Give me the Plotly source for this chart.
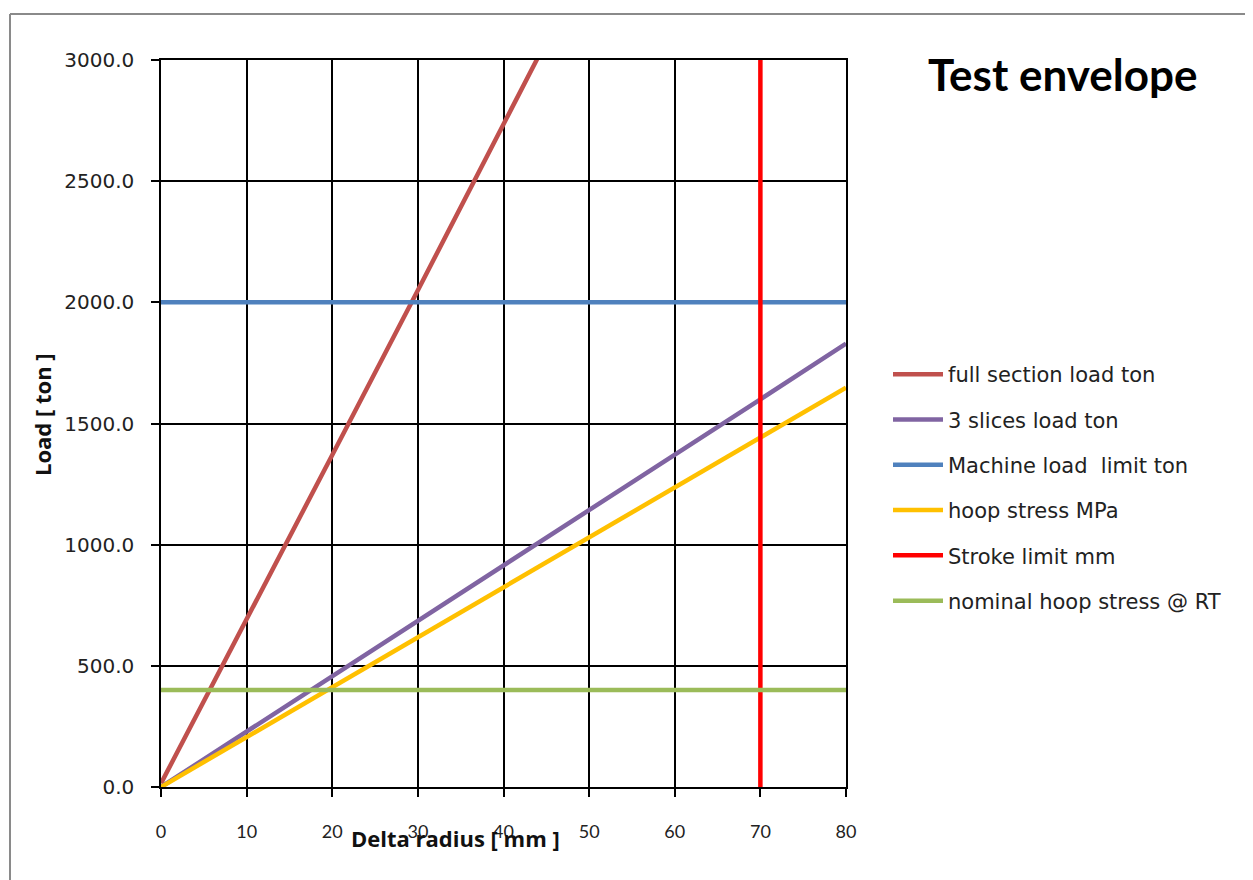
import plotly.graph_objects as go

# Data
delta_x = [0, 10, 20, 30, 40, 50, 60, 70, 80]
full_section_x = [0, 10, 20, 30, 40, 50]
full_section = [15, 690, 1370, 2050, 2740, 3420]
three_slices = [0, 228, 457, 686, 915, 1143, 1372, 1600, 1830]
hoop_stress = [0, 206, 412, 618, 824, 1030, 1236, 1442, 1648]
machine_x = [0, 80]
machine_limit = [2000, 2000]
stroke_x = [70, 70]
stroke_y = [0, 3000]
nominal_x = [0, 80]
nominal_hoop = [400, 400]

series = [
    ("full section load ton", full_section_x, full_section, "#C0504D"),
    ("3 slices load ton", delta_x, three_slices, "#8064A2"),
    ("Machine load  limit ton", machine_x, machine_limit, "#4F81BD"),
    ("hoop stress MPa", delta_x, hoop_stress, "#FFC000"),
    ("Stroke limit mm", stroke_x, stroke_y, "#FF0000"),
    ("nominal hoop stress @ RT", nominal_x, nominal_hoop, "#9BBB59"),
]

fig = go.Figure()
for i, (name, xs, ys, col) in enumerate(series):
    fig.add_trace(go.Scatter(x=xs, y=ys, mode="lines", name=name,
                             legendgroup=f"g{i}",
                             line=dict(color=col, width=4.5)))

OFF = 8  # page body margin
W, H = 1253 - OFF, 880 - OFF
# plot area in reference pixel coords: x 161..846, y 60..787
L, R, T, B = 161 - OFF, 1253 - 846, 60 - OFF, 880 - 787
pw, ph = W - L - R, H - T - B

def px(xp):
    return (xp - OFF - L) / pw

def py(yp):
    return (H - B - (yp - OFF)) / ph

fig.update_layout(
    width=W, height=H,
    margin=dict(l=L, r=R, t=T, b=B),
    paper_bgcolor="white", plot_bgcolor="white",
    showlegend=True,
    legend=dict(x=px(888), y=py(354), xanchor="left", yanchor="top",
                font=dict(family="DejaVu Sans", size=21, color="#222"),
                tracegroupgap=15, itemwidth=50, bgcolor="rgba(0,0,0,0)"),
    xaxis=dict(range=[0, 80], dtick=10, tick0=0,
               showgrid=True, gridcolor="black", gridwidth=1.5,
               showline=True, mirror=True, linecolor="black", linewidth=1.5,
               zeroline=False,
               ticks="outside", ticklen=8, tickcolor="black", tickwidth=1.5,
               ticklabelstandoff=20,
               tickfont=dict(family="Lato", size=18, color="#222")),
    yaxis=dict(range=[0, 3000], dtick=500, tick0=0, tickformat=".1f",
               showgrid=True, gridcolor="black", gridwidth=1.5,
               showline=True, mirror=True, linecolor="black", linewidth=1.5,
               zeroline=False,
               ticks="outside", ticklen=8, tickcolor="black", tickwidth=1.5,
               ticklabelstandoff=13,
               tickfont=dict(family="DejaVu Sans", size=20, color="#222")),
)

fig.add_annotation(text="<b>Test envelope</b>", x=px(1063), y=py(74),
                   xref="paper", yref="paper", showarrow=False,
                   xanchor="center", yanchor="middle",
                   font=dict(family="Lato", size=44, color="black"))
fig.add_annotation(text="<b>Delta radius [ mm ]</b>", x=px(455), y=py(838),
                   xref="paper", yref="paper", showarrow=False,
                   xanchor="center", yanchor="middle",
                   font=dict(family="Open Sans", size=22, color="#111"))
fig.add_annotation(text="<b>Load [ ton ]</b>", x=px(42), y=py(415),
                   xref="paper", yref="paper", showarrow=False,
                   textangle=-90, xanchor="center", yanchor="middle",
                   font=dict(family="Open Sans", size=22, color="#111"))

# outer chart border (left and top visible)
fig.add_shape(type="line", xref="paper", yref="paper",
              x0=px(10), y0=py(14), x1=px(10), y1=py(880),
              line=dict(color="#8a8a8a", width=2))
fig.add_shape(type="line", xref="paper", yref="paper",
              x0=px(10), y0=py(14), x1=px(1253), y1=py(14),
              line=dict(color="#8a8a8a", width=2))

fig.write_html("out.html")
